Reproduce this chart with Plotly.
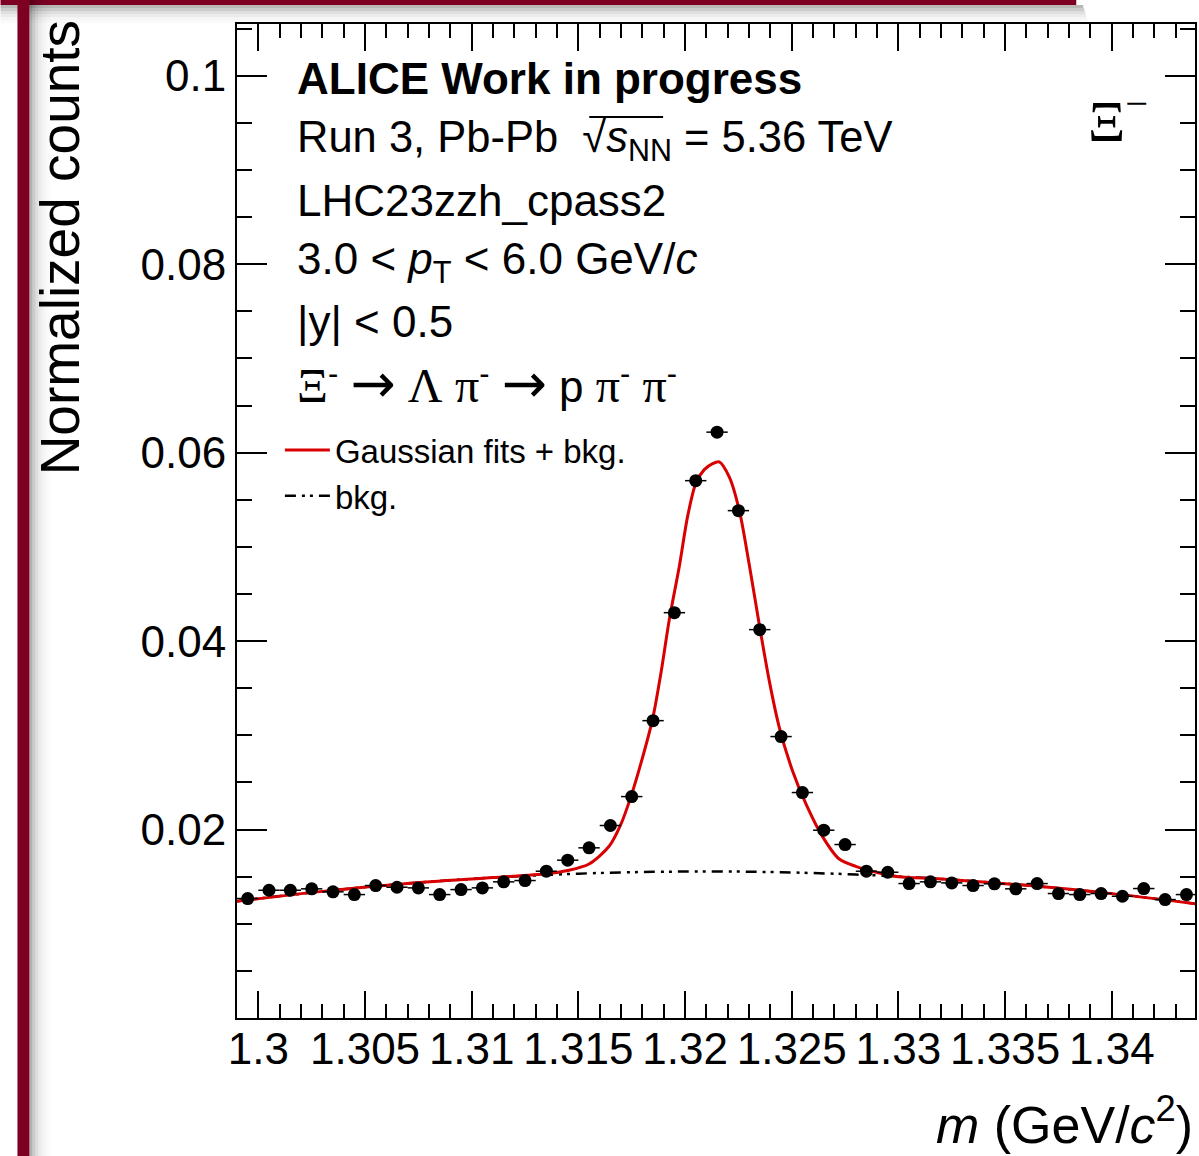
import plotly.graph_objects as go

# ---------------- data ----------------
bin_centers = [1.2995, 1.3005, 1.3015, 1.3025, 1.3035, 1.3045, 1.3055, 1.3065, 1.3075,
               1.3085, 1.3095, 1.3105, 1.3115, 1.3125, 1.3135, 1.3145, 1.3155, 1.3165,
               1.3175, 1.3185, 1.3195, 1.3205, 1.3215, 1.3225, 1.3235, 1.3245, 1.3255,
               1.3265, 1.3275, 1.3285, 1.3295, 1.3305, 1.3315, 1.3325, 1.3335, 1.3345,
               1.3355, 1.3365, 1.3375, 1.3385, 1.3395, 1.3405, 1.3415, 1.3425, 1.3435]
counts = [0.01268, 0.01356, 0.01356, 0.01371, 0.01339, 0.01310, 0.01406, 0.01388, 0.01381,
          0.01310, 0.01363, 0.01381, 0.01445, 0.01459, 0.01558, 0.01675, 0.01806, 0.02043,
          0.02350, 0.03156, 0.04302, 0.05703, 0.06218, 0.05385, 0.04122, 0.02987, 0.02393,
          0.01993, 0.01841, 0.01558, 0.01547, 0.01427, 0.01445, 0.01434, 0.01406, 0.01424,
          0.01371, 0.01427, 0.01321, 0.01310, 0.01321, 0.01292, 0.01374, 0.01257, 0.01310]
bin_half_width = 0.0005

fit_x = [1.299, 1.303, 1.307, 1.311, 1.3135, 1.3145, 1.3155, 1.31645, 1.3170, 1.31747,
         1.31794, 1.31848, 1.31887, 1.31926, 1.31973, 1.32012, 1.32051, 1.32090, 1.32129,
         1.32160, 1.32207, 1.32254, 1.32300, 1.32347, 1.32394, 1.32441, 1.32503, 1.32566,
         1.32643, 1.32721, 1.3280, 1.3290, 1.3300, 1.332, 1.336, 1.340, 1.344]
fit_y = [0.01240, 0.01344, 0.01428, 0.01490, 0.01530, 0.01565, 0.01634, 0.01825, 0.02060,
         0.02355, 0.02710, 0.03175, 0.03662, 0.04228, 0.04793, 0.05324, 0.05679, 0.05820,
         0.05884, 0.05902, 0.05743, 0.05390, 0.04823, 0.04187, 0.03586, 0.03090, 0.02628,
         0.02275, 0.01930, 0.01690, 0.01610, 0.01545, 0.01500, 0.01476, 0.01408, 0.01320,
         0.01210]

bkg_x = [1.299, 1.303, 1.307, 1.311, 1.315, 1.3185, 1.3215, 1.3245, 1.328, 1.332, 1.336,
         1.340, 1.344]
bkg_y = [0.01240, 0.01344, 0.01428, 0.01490, 0.01532, 0.01551, 0.01555, 0.01547, 0.01523,
         0.01476, 0.01408, 0.01320, 0.01210]

x_tickvals = [1.3, 1.305, 1.31, 1.315, 1.32, 1.325, 1.33, 1.335, 1.34]
x_ticktext = ["1.3", "1.305", "1.31", "1.315", "1.32", "1.325", "1.33", "1.335", "1.34"]
y_tickvals = [0.02, 0.04, 0.06, 0.08, 0.1]
y_ticktext = ["0.02", "0.04", "0.06", "0.08", "0.1"]

# ---------------- layout geometry ----------------
W, H = 1199, 1156
L, R, T, B = 237, 2, 24, 138
PW, PH = W - L - R, H - T - B
SANS = "Liberation Sans, Arial, Helvetica, sans-serif"
SERIF = "Liberation Serif, Times New Roman, serif"
ARROW = "DejaVu Sans, sans-serif"
RED = "#d80000"
BURGUNDY = "#7d0022"


def px(xp):
    return (xp - L) / PW


def py(yp):
    return (H - B - yp) / PH


fig = go.Figure()
fig.add_trace(go.Scatter(
    x=bkg_x, y=bkg_y, mode="lines", name="bkg.", legendrank=2,
    line=dict(color="black", width=2.5, dash="11px,6px,3px,5px,3px,6px", shape="spline"),
    hoverinfo="skip"))
fig.add_trace(go.Scatter(
    x=fit_x, y=fit_y, mode="lines", name="Gaussian fits + bkg.", legendrank=1,
    line=dict(color=RED, width=3, shape="spline", smoothing=0.8)))
fig.add_trace(go.Scatter(
    x=bin_centers, y=counts, mode="markers", showlegend=False,
    marker=dict(color="black", size=13, line=dict(width=0)),
    error_x=dict(type="constant", value=bin_half_width, width=0, thickness=1.5, color="black")))

axis_common = dict(
    showline=True, linecolor="black", linewidth=2, mirror="ticks",
    ticks="inside", tickcolor="black", tickwidth=2,
    showgrid=False, zeroline=False,
    tickfont=dict(family=SANS, size=44, color="black"),
)
fig.update_xaxes(
    range=[1.299, 1.3439], tickvals=x_tickvals, ticktext=x_ticktext, ticklen=27,
    ticklabelstandoff=-9,
    minor=dict(ticks="inside", dtick=0.001, tick0=1.3, ticklen=14, tickwidth=2,
               tickcolor="black", showgrid=False),
    **axis_common)
fig.update_yaxes(
    range=[0, 0.1055], tickvals=y_tickvals, ticktext=y_ticktext, ticklen=30,
    minor=dict(ticks="inside", dtick=0.005, tick0=0, ticklen=15, tickwidth=2,
               tickcolor="black", showgrid=False),
    **axis_common)


def serif(s, size=48):
    return f"<span style='font-family:{SERIF};font-size:{size}px'>{s}</span>"


def arrow():
    return f"<span style='font-family:{ARROW};font-size:54px'>→</span>"


decay = (serif("Ξ") + "<sup>-</sup> " + arrow() + " " + serif("Λ") + " " + serif("π")
         + "<sup>-</sup> " + arrow() + " p " + serif("π") + "<sup>-</sup> "
         + serif("π") + "<sup>-</sup>")

text_lines = [
    ("<b>ALICE Work in progress</b>", 78, 44),
    ("Run 3, Pb-Pb  √<i>s</i><sub>NN</sub> = 5.36 TeV", 140, 43.5),
    ("LHC23zzh_cpass2", 200, 44),
    ("3.0 < <i>p</i><sub>T</sub> < 6.0 GeV/<i>c</i>", 262, 44),
    ("|y| < 0.5", 322, 44),
    (decay, 383, 44),
]
annotations = []
for txt, yc, fs in text_lines:
    annotations.append(dict(
        text=txt, xref="paper", yref="paper", x=px(295), y=py(yc),
        xanchor="left", yanchor="middle", showarrow=False,
        font=dict(family=SANS, size=fs, color="black")))

annotations.append(dict(
    text="Ξ<sup>−</sup>", xref="paper", yref="paper", x=px(1088), y=py(118),
    xanchor="left", yanchor="middle", showarrow=False,
    font=dict(family=SERIF, size=58, color="black")))
annotations.append(dict(
    text="Normalized counts", xref="paper", yref="paper", x=px(60), y=py(248),
    xanchor="center", yanchor="middle", textangle=-90, showarrow=False,
    font=dict(family=SANS, size=55, color="black")))
annotations.append(dict(
    text="<i>m</i> (GeV/<i>c</i><sup>2</sup>)", xref="paper", yref="paper",
    x=px(1197), y=py(1156), xanchor="right", yanchor="bottom", showarrow=False,
    font=dict(family=SANS, size=52, color="black")))

shapes = []
# overline of the square root in the collision-energy line
shapes.append(dict(type="line", xref="paper", yref="paper", layer="above",
                   x0=px(590), x1=px(664), y0=py(117), y1=py(117),
                   line=dict(color="black", width=2)))
# slide decorations: top burgundy bar with shadow, left burgundy bar with shadow
for i, a in enumerate([0.28, 0.2, 0.13, 0.08, 0.04, 0.02]):
    shapes.append(dict(type="rect", xref="paper", yref="paper", layer="above",
                       x0=px(0), x1=px(1085 + i), y0=py(5 + 3 * i), y1=py(8 + 3 * i),
                       fillcolor=f"rgba(0,0,0,{a})", line=dict(width=0)))
shapes.append(dict(type="rect", xref="paper", yref="paper", layer="above",
                   x0=px(0), x1=px(1078), y0=py(0), y1=py(5),
                   fillcolor=BURGUNDY, line=dict(width=0)))
for i, a in enumerate([0.3, 0.2, 0.13, 0.08, 0.05, 0.03, 0.015]):
    shapes.append(dict(type="rect", xref="paper", yref="paper", layer="above",
                       x0=px(29 + 3 * i), x1=px(32 + 3 * i), y0=py(0), y1=py(H),
                       fillcolor=f"rgba(0,0,0,{a})", line=dict(width=0)))
shapes.append(dict(type="rect", xref="paper", yref="paper", layer="above",
                   x0=px(17), x1=px(29), y0=py(0), y1=py(H),
                   fillcolor=BURGUNDY, line=dict(width=0)))

fig.update_layout(
    width=W, height=H, margin=dict(l=L, r=R, t=T, b=B, pad=0),
    paper_bgcolor="white", plot_bgcolor="white",
    annotations=annotations, shapes=shapes,
    showlegend=True,
    legend=dict(x=px(280), y=py(422), xanchor="left", yanchor="top",
                bgcolor="rgba(0,0,0,0)", borderwidth=0,
                font=dict(family=SANS, size=33, color="black"),
                itemwidth=45, tracegroupgap=0),
)

fig.write_html("out.html")
